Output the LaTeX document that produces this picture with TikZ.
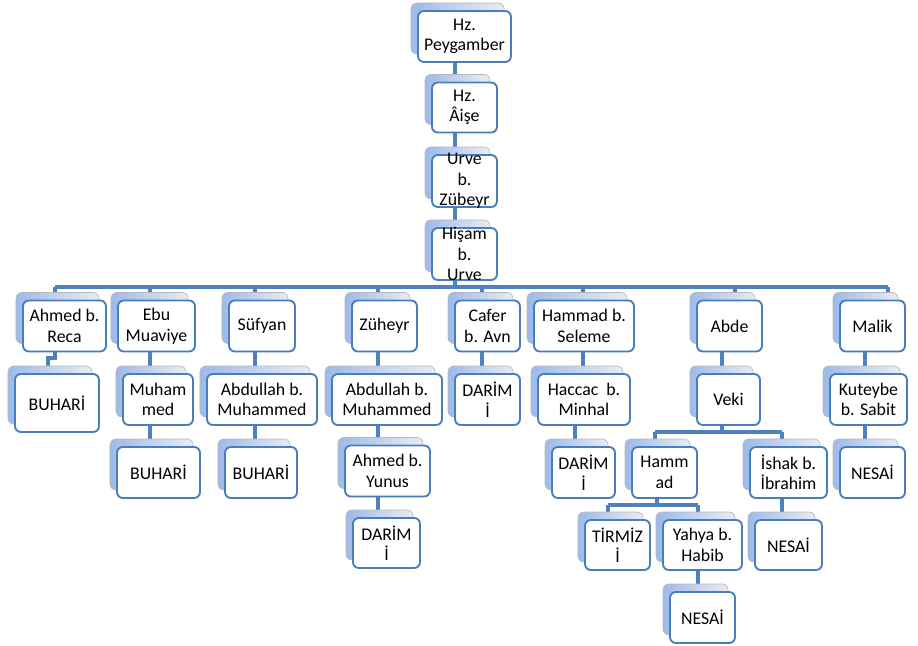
\documentclass[tikz,border=0pt]{standalone}
\usepackage{fontspec}
\setmainfont{Carlito}
\usetikzlibrary{shadows,backgrounds}
\definecolor{ravi line}{HTML}{4A7EBB}
\definecolor{link blue}{HTML}{4F81BD}
\definecolor{back top}{HTML}{E9ECF4}
\definecolor{back bottom}{HTML}{9DBAEA}
\begin{document}
\begin{tikzpicture}[x=0.03cm,y=-0.03cm,
  ravi text/.style={align=center,font=\fontsize{15.2pt}{17.5pt}\selectfont},
  ravi/.style={ravi text,rectangle,rounded corners=5pt,draw=ravi line,line width=1.6pt,fill=white,inner sep=0pt,minimum height=1.53cm,
    general shadow={shadow xshift=-0.21cm,shadow yshift=0.24cm,draw=gray!55,line width=0.6pt,left color=back bottom,right color=back top}},
  link/.style={draw=link blue,line width=3.3pt}]
                \useasboundingbox (0,0) rectangle (918,646);
                \node[ravi,minimum width=2.79cm] at (464.5,36.5) (peygamber) {Hz.\\Peygamber};
                \node[ravi,minimum width=1.95cm,minimum height=1.5cm] at (464.5,107.5) (aise) {Hz.\\Âişe};
                \node[ravi,minimum width=1.95cm,minimum height=1.56cm] at (464.5,181) (urve) {};
                \node[ravi text] at (urve) {Urve\\b.\\Zübeyr};
                \node[ravi,minimum width=1.95cm,minimum height=1.56cm] at (464.5,254) (hisam) {};
                \node[ravi text] at (hisam) {Hişam\\b.\\Urve};

                \node[ravi,minimum width=2.49cm] at (64.5,326) (ahmed) {Ahmed b.\\Reca};
                \node[ravi,minimum width=2.31cm] at (156.5,326) (ebu) {Ebu\\Muaviye};
                \node[ravi,minimum width=1.98cm] at (262,326) (sufyan) {Süfyan};
                \node[ravi,minimum width=1.95cm] at (384.5,326) (zuheyr) {Züheyr};
                \node[ravi,minimum width=1.95cm] at (487.5,326) (cafer) {Cafer\\b. Avn};
                \node[ravi,minimum width=3cm] at (584,326) (hammadS) {Hammad b.\\Seleme};
                \node[ravi,minimum width=1.95cm] at (729.5,326) (abde) {Abde};
                \node[ravi,minimum width=1.95cm] at (872.5,326) (malik) {Malik};

                \node[ravi,minimum width=2.52cm,minimum height=1.74cm] at (57,403) (buhari1) {BUHARİ};
                \node[ravi,minimum width=2.1cm] at (158,399.5) (muhammed) {Muham\\med};
                \node[ravi,minimum width=3.3cm] at (262,399.5) (abdullah1) {Abdullah b.\\Muhammed};
                \node[ravi,minimum width=3.3cm] at (387,399.5) (abdullah2) {Abdullah b.\\Muhammed};
                \node[ravi,minimum width=1.95cm] at (487.5,399.5) (darimi1) {DARİM\\İ};
                \node[ravi,minimum width=2.76cm] at (584,399.5) (haccac) {Haccac\ \ b.\\Minhal};
                \node[ravi,minimum width=1.89cm] at (728.5,399.5) (veki) {Veki};
                \node[ravi,minimum width=2.31cm] at (868.5,399.5) (kuteybe) {Kuteybe\\b. Sabit};

                \node[ravi,minimum width=2.49cm] at (158.5,472.5) (buhari2) {BUHARİ};
                \node[ravi,minimum width=2.16cm] at (261,472.5) (buhari3) {BUHARİ};
                \node[ravi,minimum width=2.55cm] at (387.5,471) (yunus) {Ahmed b.\\Yunus};
                \node[ravi,minimum width=1.89cm] at (583.5,472.5) (darimi2) {DARİM\\İ};
                \node[ravi,minimum width=1.95cm] at (664.5,472.5) (hammad) {Hamm\\ad};
                \node[ravi,minimum width=2.31cm] at (788.5,472.5) (ishak) {İshak b.\\İbrahim};
                \node[ravi,minimum width=1.95cm] at (872.5,472.5) (nesai1) {NESAİ};

                \node[ravi,minimum width=2.01cm,minimum height=1.5cm] at (386.5,543) (darimi3) {DARİM\\İ};
                \node[ravi,minimum width=1.95cm,minimum height=1.5cm] at (617.5,545) (tirmizi) {TİRMİZ\\İ};
                \node[ravi,minimum width=2.37cm,minimum height=1.5cm] at (702.5,545) (yahya) {Yahya b.\\Habib};
                \node[ravi,minimum width=2.01cm,minimum height=1.5cm] at (788.5,545) (nesai2) {NESAİ};
                \node[ravi,minimum width=1.95cm] at (702.5,617.5) (nesai3) {NESAİ};

                \begin{scope}[on background layer]
                \coordinate (trunk) at (455,287);
                \coordinate (b1) at (55,287);
                \coordinate (b2) at (150,287);
                \coordinate (b3) at (255,287);
                \coordinate (b4) at (378,287);
                \coordinate (b5) at (482,287);
                \coordinate (b6) at (583,287);
                \coordinate (b7) at (735,287);
                \coordinate (b8) at (888,287);
                \coordinate (j1) at (48,358);
                \coordinate (j6) at (575,0);
                \coordinate (v) at (722,432);
                \coordinate (v1) at (655,432);
                \coordinate (v2) at (782,432);
                \coordinate (h) at (657,505);
                \coordinate (h1) at (608,505);
                \coordinate (h2) at (698,505);
                \coordinate (k) at (865,0);
                \draw[link] (peygamber.south -| trunk) -- (trunk);
                \draw[link] (b1) -- (b8);
                \draw[link] (b1) -- (b1 |- ahmed.south) |- (j1) -- (j1 |- buhari1.north);
                \draw[link] (b2) -- (b2 |- buhari2.north);
                \draw[link] (b3) -- (b3 |- buhari3.north);
                \draw[link] (b4) -- (b4 |- darimi3.north);
                \draw[link] (b5) -- (b5 |- darimi1.north);
                \draw[link] (b6) -- (b6 |- haccac.center);
                \draw[link] (j6 |- haccac.center) -- (j6 |- darimi2.north);
                \draw[link] (b7) -- (b7 |- abde.center);
                \draw[link] (v |- abde.center) -- (v);
                \draw[link] (v1) -- (v2);
                \draw[link] (v1) -- (v1 |- hammad.north);
                \draw[link] (v2) -- (v2 |- nesai2.north);
                \draw[link] (h |- hammad.center) -- (h);
                \draw[link] (h1) -- (h2);
                \draw[link] (h1) -- (h1 |- tirmizi.north);
                \draw[link] (h2) -- (h2 |- nesai3.north);
                \draw[link] (b8) -- (b8 |- malik.center);
                \draw[link] (k |- malik.center) -- (k |- nesai1.north);
                \end{scope}

            \end{tikzpicture}
\end{document}
